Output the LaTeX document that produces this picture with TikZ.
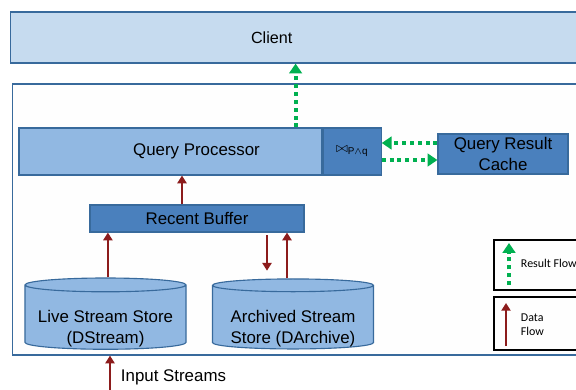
\documentclass[tikz,border=0pt]{standalone}
\usepackage{fontspec}
\setmainfont{Liberation Sans}
\newfontfamily\legendfont{Carlito}
\usetikzlibrary{calc}
\usetikzlibrary{arrows.meta,positioning,shapes.geometric}
\definecolor{clientblue}{RGB}{198,219,239}
\definecolor{edgeblue}{RGB}{56,106,156}
\definecolor{lightblue}{RGB}{145,184,226}
\definecolor{midblue}{RGB}{74,128,189}
\definecolor{flowgreen}{RGB}{0,176,80}
\definecolor{flowred}{RGB}{140,28,28}

\begin{document}
\begin{tikzpicture}[x=0.025cm, y=-0.025cm,
                    font=\fontsize{12}{15}\selectfont]
  % styles
  \tikzstyle{box}=[rectangle,draw=edgeblue,line width=0.8pt,align=center,inner sep=2pt]
  \tikzstyle{lbox}=[box,fill=lightblue]
  \tikzstyle{dbox}=[box,fill=midblue]
  \tikzstyle{store}=[cylinder,shape border rotate=90,aspect=0.1,draw=edgeblue,
                     line width=0.8pt,fill=lightblue,align=center,
                     minimum width=4.025cm,minimum height=1.75cm,
                     inner xsep=1pt,inner ysep=-2.5pt]
  \tikzstyle{legbox}=[rectangle,draw=black,line width=1.1pt,
                      minimum width=2.4cm]
  \tikzstyle{resflow}=[draw=flowgreen,line width=2.8pt,
                       dash pattern=on 2.8pt off 2.8pt,
                       -{Triangle[length=7pt,width=9pt]}]
  \tikzstyle{dataflow}=[draw=flowred,line width=1.7pt,
                        -{Triangle[length=5.5pt,width=6.5pt]}]

  \clip (0,0) rectangle (576,389);

  % nodes
  \node[box,fill=clientblue,minimum width=14.475cm,minimum height=1.275cm]
        (client) at (300.5,37.5) {\fontsize{11.5}{13}\selectfont Client\hspace*{41pt}};
  \node[box,fill=white!99!gray,minimum width=14.425cm,minimum height=6.775cm]
        (system) at (301.5,219.5) {};
  \node[lbox,minimum width=7.575cm,minimum height=1.175cm]
        (qp) at (170.5,151.5) {\hspace*{37pt}Query Processor};
  \node[dbox,right=0pt of qp,minimum width=1.45cm,minimum height=1.175cm]
        (join) {\fontsize{10}{12}\selectfont $\bowtie_{\mathrm{P}\wedge\mathrm{q}}$};
  \node[dbox,minimum width=3.25cm,minimum height=1cm]
        (cache) at (503,154) {Query Result\\Cache};
  \node[dbox,minimum width=5.35cm,minimum height=0.675cm]
        (buffer) at (197,218.5) {Recent Buffer};
  \node[store] (live)    at (105.5,318) {\mbox{}\\[9pt]Live Stream Store\\(DStream)};
  \node[store] (archive) at (293,318)   {\mbox{}\\[9pt]Archived Stream\\Store (DArchive)};
  \node[anchor=west] (inlabel) at (116,377) {Input Streams};
  \coordinate (infeed) at (110,392);

  % legend
  \node[legbox,minimum height=1.25cm]  (resleg)  at (542,265) {};
  \node[legbox,minimum height=1.325cm] (dataleg) at (542,323.5) {};
  \node[anchor=west,font=\legendfont\fontsize{8.5}{10}\selectfont]
        (restext) at (516,263) {Result Flow};
  \node[anchor=west,align=left,font=\legendfont\fontsize{8.5}{10}\selectfont]
        (datatext) at (516,325) {Data\\Flow};
  \coordinate (resfoot)  at (509,285);
  \coordinate (resfoot') at (509,243);
  \coordinate (datafoot) at (506,346);
  \coordinate (datafoot') at (506,303);

  % arrows
  \draw[resflow] ([xshift=-0.675cm]qp.north east)
                 -- ([xshift=-0.675cm]qp.north east |- client.south);
  \draw[resflow] ([yshift=0.275cm]cache.west) -- ([yshift=0.275cm]cache.west -| join.east);
  \draw[resflow] ([yshift=-0.15cm]cache.west -| join.east) -- ([yshift=-0.15cm]cache.west);
  \draw[dataflow] ([xshift=-0.375cm]buffer.north) -- ([xshift=-0.375cm]buffer.north |- qp.south);
  \draw[dataflow] ([xshift=0.06cm]live.north) -- ([xshift=0.06cm]live.north |- buffer.south);
  \draw[dataflow,shorten <=2pt,shorten >=5.5pt]
        ([xshift=-0.65cm]archive.north |- buffer.south) -- ([xshift=-0.65cm]archive.north);
  \draw[dataflow] ([xshift=-0.15cm]archive.north) -- ([xshift=-0.15cm]archive.north |- buffer.south);
  \draw[dataflow] (infeed) -- (infeed |- system.south);
  \draw[resflow] (resfoot) -- (resfoot');
  \draw[dataflow] (datafoot) -- (datafoot');
\end{tikzpicture}
\end{document}
